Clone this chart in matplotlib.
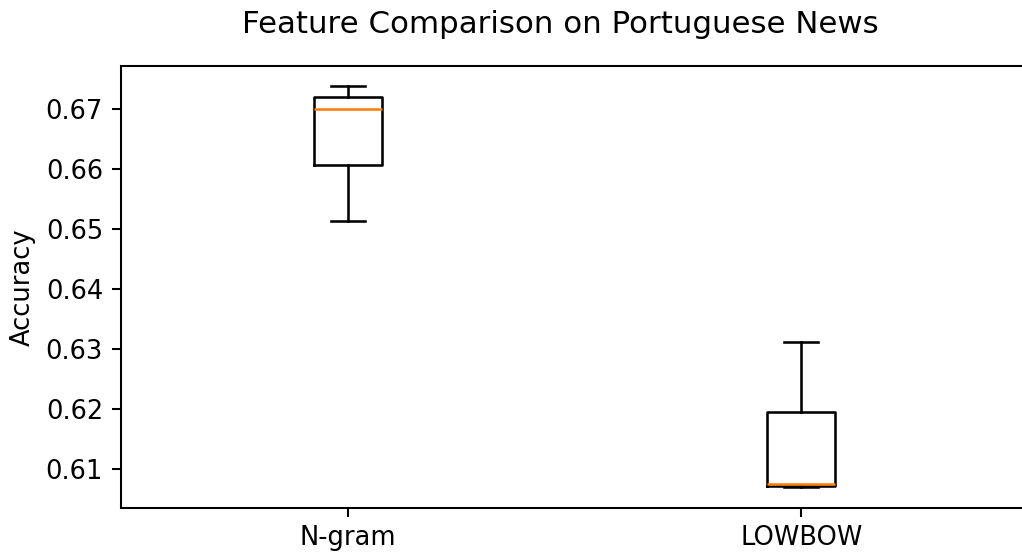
import matplotlib
matplotlib.use("Agg")
import matplotlib.pyplot as plt

categories = ["N-gram", "LOWBOW"]
whisker_low = [0.65128, 0.60688]
q1 = [0.66059, 0.60716]
median = [0.66998, 0.60744]
q3 = [0.67196, 0.61953]
whisker_high = [0.67384, 0.63118]

stats = []
for i, name in enumerate(categories):
    stats.append(dict(label=name, whislo=whisker_low[i], q1=q1[i], med=median[i],
                      q3=q3[i], whishi=whisker_high[i], fliers=[]))

dpi = 185
W, H = 1022, 554
fig = plt.figure(figsize=(W / dpi, H / dpi), dpi=dpi)
ax = fig.add_axes([121 / W, 1 - 507.5 / H, 907 / W, (507.5 - 66) / H])
ax.bxp(stats, showfliers=False)
fig.text(560 / W, 1 - 33 / H, "Feature Comparison on Portuguese News",
         ha="center", va="baseline", fontsize="large")
ax.set_ylabel("Accuracy")
fig.savefig("out.png", dpi=dpi)
